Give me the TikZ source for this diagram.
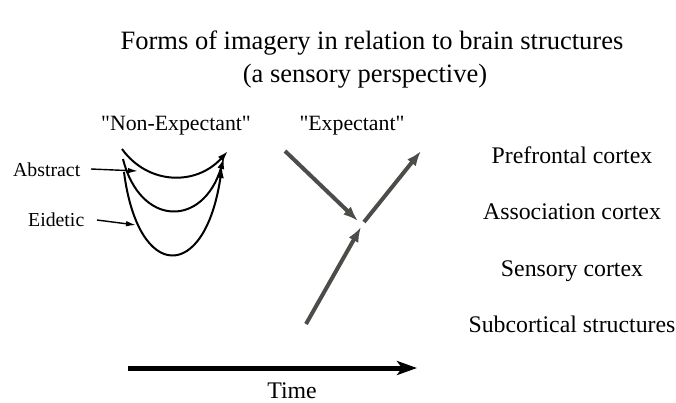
\documentclass[tikz,border=0pt]{standalone}
\usepackage{fontspec}
\setmainfont{Liberation Serif}
\newfontfamily\plainqfont{Liberation Serif}
\usetikzlibrary{arrows.meta}
\definecolor{expgray}{HTML}{4A4D48}
\newcommand{\sq}{{\plainqfont\char34\relax}}
\begin{document}
\begin{tikzpicture}[x=1bp,y=-1bp,
  lbl/.style={inner sep=0pt,anchor=base},
  titlefont/.style={font=\fontsize{26.5bp}{30bp}\selectfont},
  regionfont/.style={font=\fontsize{23.8bp}{28bp}\selectfont},
  headfont/.style={font=\fontsize{21.8bp}{26bp}\selectfont},
  smallfont/.style={font=\fontsize{19.8bp}{24bp}\selectfont},
  curve/.style={line width=2bp,-{Latex[length=11bp,width=7bp]}},
  pointer/.style={line width=1.4bp,-{Latex[length=10bp,width=5.5bp]}},
  exparrow/.style={draw=expgray,line width=4bp,-{Latex[length=15bp,width=11bp]},fill=expgray},
  timearrow/.style={line width=5bp,-{Stealth[length=20bp,width=14bp,inset=5bp]}}
]
\useasboundingbox (0,0) rectangle (676,402);
% title
\node[lbl,titlefont] (t1) at (372,49) {Forms of imagery in relation to brain structures};
\node[lbl,titlefont] (t2) at (365,82) {(a sensory perspective)};
% headings
\node[lbl,headfont] (hne) at (176,130) {\sq Non-Expectant\sq};
\node[lbl,headfont] (hex) at (352,130) {\sq Expectant\sq};
% left labels
\node[lbl,smallfont,anchor=base west] (abs) at (13,176) {Abstract};
\node[lbl,smallfont,anchor=base west] (eid) at (28,226) {Eidetic};
% curves
\coordinate (c1s) at (122,149); \coordinate (c1e) at (228,151);
\coordinate (c2s) at (123,159); \coordinate (c2e) at (224,158);
\coordinate (c3s) at (124,172); \coordinate (c3e) at (222,167);
\draw[curve] (c1s) .. controls (148,185) and (196,186) .. (c1e);
\draw[curve] (c2s) .. controls (140,227) and (203,228) .. (c2e);
\draw[curve] (c3s) .. controls (138,282) and (205,283) .. (c3e);
% pointers
\coordinate (pas) at (91,169); \coordinate (pa) at (138,171);
\coordinate (pes) at (97,220); \coordinate (pe) at (136,225);
\draw[pointer] (pas) -- (pa);
\draw[pointer] (pes) -- (pe);
% expectant arrows
\coordinate (e1s) at (285,151); \coordinate (e1e) at (358,221);
\coordinate (e2s) at (364,222); \coordinate (e2e) at (421,151);
\coordinate (e3s) at (306,324); \coordinate (e3e) at (361,227);
\draw[exparrow] (e1s) -- (e1e);
\draw[exparrow] (e2s) -- (e2e);
\draw[exparrow] (e3s) -- (e3e);
% brain regions
\node[lbl,regionfont] (pf) at (572,163) {Prefrontal cortex};
\node[lbl,regionfont] (ac) at (572,219) {Association cortex};
\node[lbl,regionfont] (sc) at (572,276) {Sensory cortex};
\node[lbl,regionfont] (ss) at (572,332) {Subcortical structures};
% time
\coordinate (ts) at (128,368); \coordinate (te) at (417,368);
\draw[timearrow] (ts) -- (te);
\node[lbl,regionfont] (time) at (292,398) {Time};
\end{tikzpicture}
\end{document}
